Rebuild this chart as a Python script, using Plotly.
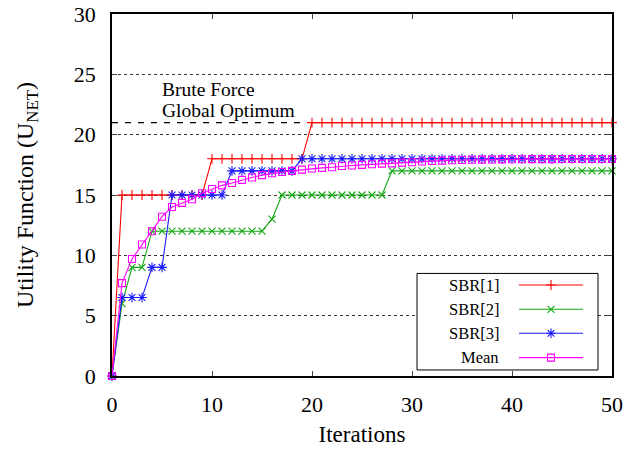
import plotly.graph_objects as go

iterations = list(range(0, 51))

sbr1 = [0] + [15] * 9 + [18] * 10 + [21] * 31
sbr2 = [0, 6, 9, 9] + [12] * 12 + [13] + [15] * 11 + [17] * 23
sbr3 = [0, 6.5, 6.5, 6.5, 9, 9] + [15] * 6 + [17] * 7 + [18] * 32
mean = [0, 7.7, 9.7, 10.9, 12.0, 13.2, 14.0, 14.35, 14.65, 15.15,
        15.5, 15.8, 16.0, 16.25, 16.45, 16.65, 16.8, 16.9, 17.0, 17.1,
        17.2, 17.25, 17.3, 17.4, 17.45, 17.5, 17.55, 17.6, 17.62, 17.68,
        17.72, 17.78, 17.82, 17.85, 17.88, 17.9, 17.92, 17.93, 17.94, 17.95,
        17.96, 17.96, 17.97, 17.97, 17.97, 17.98, 17.98, 17.98, 17.98, 17.98, 17.98]

series_names = ["SBR[1]", "SBR[2]", "SBR[3]", "Mean"]
series_values = [sbr1, sbr2, sbr3, mean]
series_colors = ["#ff0000", "#12a812", "#1a1aff", "#ff00ff"]
series_symbols = ["cross-thin", "x-thin", "asterisk", "square-open"]
series_sizes = [7, 7, 8, 7]

optimum_value = 21
optimum_x = [0, 19.4]
optimum_label_lines = ["Brute Force", "Global Optimum"]
optimum_label_y = [23.75, 22.0]

x_ticks = [0, 10, 20, 30, 40, 50]
y_ticks = [0, 5, 10, 15, 20, 25, 30]

FONT = "'Liberation Serif', 'Times New Roman', Tinos, serif"

# legend box (drawn in data coordinates of the main axes)
LEG_X0, LEG_X1, LEG_Y0, LEG_Y1 = 30.5, 48.6, 0.5, 8.5
LEG_ROWS = [7.54, 5.53, 3.54, 1.52]
LEG_LINE = [40.7, 47.1]
LEG_MARK = 43.9
LEG_TEXT_X = 38.9

fig = go.Figure()

for name, vals, col, sym, sz in zip(series_names, series_values, series_colors,
                                    series_symbols, series_sizes):
    fig.add_trace(go.Scatter(
        x=iterations, y=vals, name=name, mode="lines+markers",
        line=dict(color=col, width=1.1),
        marker=dict(symbol=sym, size=sz, color=col,
                    line=dict(color=col, width=1.1)),
        showlegend=False, cliponaxis=False,
    ))

fig.add_trace(go.Scatter(
    x=optimum_x, y=[optimum_value, optimum_value], mode="lines",
    line=dict(color="black", width=1.2, dash="6px,7px"),
    showlegend=False, hoverinfo="skip",
))

# manual gnuplot-style legend (text left, sample right)
fig.add_shape(type="rect", xref="x", yref="y", x0=LEG_X0, x1=LEG_X1,
              y0=LEG_Y0, y1=LEG_Y1, layer="between",
              line=dict(color="black", width=1), fillcolor="white")
for name, row, col, sym, sz in zip(series_names, LEG_ROWS, series_colors,
                                   series_symbols, series_sizes):
    fig.add_trace(go.Scatter(
        x=LEG_LINE, y=[row, row], mode="lines",
        line=dict(color=col, width=1.1), showlegend=False, hoverinfo="skip"))
    fig.add_trace(go.Scatter(
        x=[LEG_MARK], y=[row], mode="markers",
        marker=dict(symbol=sym, size=sz, color=col,
                    line=dict(color=col, width=1.1)),
        showlegend=False, hoverinfo="skip"))
    fig.add_annotation(x=LEG_TEXT_X, y=row, xref="x", yref="y", text=name,
                       showarrow=False, xanchor="right", yanchor="middle",
                       font=dict(family=FONT, size=16.5, color="black"))

for txt, ly in zip(optimum_label_lines, optimum_label_y):
    fig.add_annotation(x=4.75, y=ly, xref="x", yref="y",
                       text=txt, showarrow=False, align="left",
                       xanchor="left", yanchor="middle",
                       font=dict(family=FONT, size=19.5, color="black"))

axis_common = dict(
    showline=True, linecolor="black", linewidth=1.6, mirror="ticks",
    ticks="inside", ticklen=5, tickwidth=1.3, tickcolor="#444",
    tickfont=dict(family=FONT, size=22, color="black"),
    zeroline=False, ticklabeloverflow="allow",
)

fig.update_xaxes(range=[0, 50], tickvals=x_ticks, showgrid=False,
                 ticklabelstandoff=8,
                 title=dict(text="Iterations", standoff=10,
                            font=dict(family=FONT, size=23, color="black")),
                 **axis_common)
fig.update_yaxes(range=[0, 30], tickvals=y_ticks, showgrid=True,
                 gridcolor="#333", griddash="dot", gridwidth=1,
                 ticklabelstandoff=10,
                 title=dict(text="Utility Function (U<sub>NET</sub>)", standoff=33,
                            font=dict(family=FONT, size=24, color="black")),
                 **axis_common)

fig.update_layout(
    width=642, height=449,
    margin=dict(l=112, r=30, t=14, b=73, autoexpand=False),
    paper_bgcolor="white", plot_bgcolor="white",
    font=dict(family=FONT, color="black"),
)

# remove the browser's default 8px body margin so the figure fills the window
fig.write_html("out.html",
               config={"displayModeBar": False},
               post_script="document.body.style.margin='0';")
